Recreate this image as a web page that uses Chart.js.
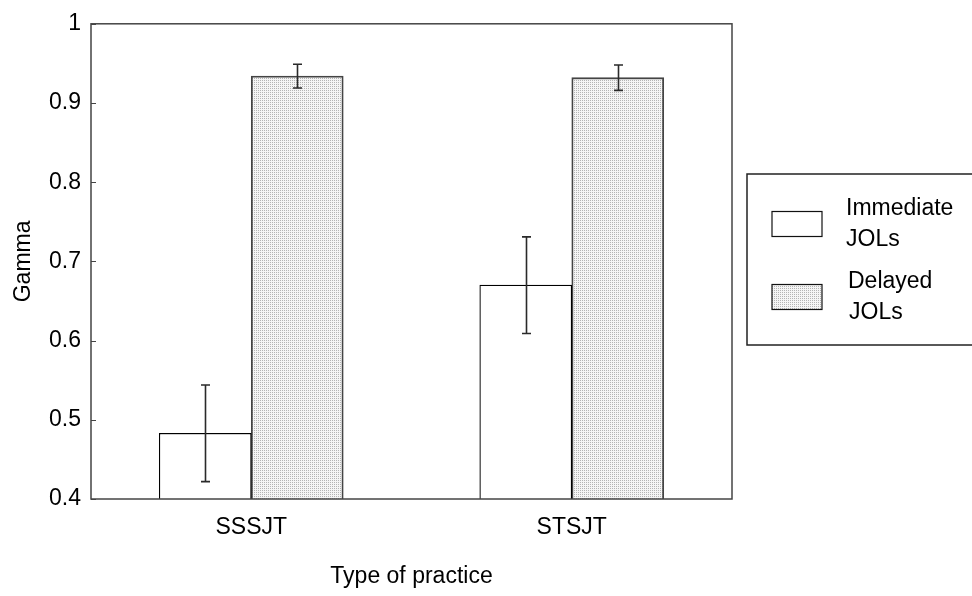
<!DOCTYPE html>
<html>
<head>
<meta charset="utf-8">
<script src="https://cdn.jsdelivr.net/npm/chart.js@4/dist/chart.umd.min.js"></script>
<style>
  html, body { margin: 0; padding: 0; background: #fff; }
  #wrap { width: 972px; height: 596px; position: relative; }
</style>
</head>
<body>
<div id="wrap"><canvas id="chart"></canvas></div>
<script>
// Mean gamma by practice type, with error bar half-widths
const categories = ['SSSJT', 'STSJT'];
const seriesNames = ['Immediate JOLs', 'Delayed JOLs'];
const immediate = [0.483, 0.670];
const delayed = [0.934, 0.932];
const immediateErr = [0.061, 0.061];
const delayedErr = [0.015, 0.016];
const yTickValues = [0.4, 0.5, 0.6, 0.7, 0.8, 0.9, 1];

const FONT = '"Liberation Sans", Arial, Helvetica, sans-serif';
const FONT_SIZE = 23;

// fine dotted fill for the delayed bars
function stipple() {
  const c = document.createElement('canvas');
  c.width = 2; c.height = 2;
  const g = c.getContext('2d');
  g.fillStyle = '#f5f5f5'; g.fillRect(0, 0, 2, 2);
  g.fillStyle = '#b4b4b4';
  g.fillRect(0, 0, 1, 1);
  return g.createPattern(c, 'repeat');
}
const dotFill = stipple();

const errorSets = [immediateErr, delayedErr];

const errorBars = {
  id: 'errorBars',
  afterDatasetsDraw(chart) {
    const ctx = chart.ctx;
    const y = chart.scales.y;
    ctx.save();
    ctx.strokeStyle = '#2a2a2a';
    ctx.lineWidth = 1.6;
    chart.data.datasets.forEach((ds, di) => {
      const meta = chart.getDatasetMeta(di);
      meta.data.forEach((bar, i) => {
        const v = ds.data[i];
        const e = errorSets[di][i];
        const yt = y.getPixelForValue(v + e);
        const yb = y.getPixelForValue(v - e);
        const x = Math.round(bar.x) + 0.5;
        ctx.beginPath();
        ctx.moveTo(x, yt); ctx.lineTo(x, yb);
        ctx.moveTo(x - 4.5, yt); ctx.lineTo(x + 4.5, yt);
        ctx.moveTo(x - 4.5, yb); ctx.lineTo(x + 4.5, yb);
        ctx.stroke();
      });
    });
    ctx.restore();
  }
};

const frameAndTicks = {
  id: 'frameAndTicks',
  afterDraw(chart) {
    const ctx = chart.ctx;
    const a = chart.chartArea;
    const y = chart.scales.y;
    ctx.save();
    ctx.strokeStyle = '#444';
    ctx.lineWidth = 1.5;
    ctx.strokeRect(a.left, a.top, a.right - a.left, a.bottom - a.top);
    // short inward ticks on the value axis
    ctx.lineWidth = 1;
    yTickValues.forEach(v => {
      const py = Math.round(y.getPixelForValue(v)) + 0.5;
      ctx.beginPath();
      ctx.moveTo(a.left, py); ctx.lineTo(a.left + 5, py);
      ctx.stroke();
    });
    ctx.restore();
  }
};

const boxedLegend = {
  id: 'boxedLegend',
  afterDraw(chart) {
    const ctx = chart.ctx;
    const a = chart.chartArea;
    const left = a.right + 15, top = 174, height = 171;
    ctx.save();
    ctx.fillStyle = '#fff';
    ctx.strokeStyle = '#222';
    ctx.lineWidth = 1.5;
    ctx.fillRect(left, top, 300, height);
    ctx.strokeRect(left, top, 300, height);
    ctx.font = FONT_SIZE + 'px ' + FONT;
    ctx.textBaseline = 'middle';
    ctx.textAlign = 'left';
    chart.data.datasets.forEach((ds, i) => {
      const cy = top + 50 + i * 73;
      const sx = left + 25;
      ctx.fillStyle = ds.backgroundColor;
      ctx.fillRect(sx, cy - 12.5, 50, 25);
      ctx.strokeStyle = '#111';
      ctx.lineWidth = 1.2;
      ctx.strokeRect(sx, cy - 12.5, 50, 25);
      ctx.fillStyle = '#000';
      const parts = ds.label.split(' ');
      ctx.fillText(parts[0], sx + 74 + i * 2, cy - 15);
      ctx.fillText(parts.slice(1).join(' '), sx + 74 + i * 3, cy + 16);
    });
    ctx.restore();
  }
};

new Chart(document.getElementById('chart'), {
  type: 'bar',
  data: {
    labels: categories,
    datasets: [
      {
        label: seriesNames[0],
        data: immediate,
        backgroundColor: '#ffffff',
        borderColor: '#000',
        borderWidth: 1.2,
        borderSkipped: false,
        barThickness: 92
      },
      {
        label: seriesNames[1],
        data: delayed,
        backgroundColor: dotFill,
        borderColor: '#444',
        borderWidth: 1.8,
        borderSkipped: false,
        barThickness: 92
      }
    ]
  },
  options: {
    responsive: true,
    maintainAspectRatio: false,
    animation: false,
    layout: { padding: { top: 20, right: 240, bottom: 0, left: 0 } },
    plugins: {
      legend: { display: false },
      tooltip: { enabled: false }
    },
    scales: {
      x: {
        grid: { display: false, drawTicks: false },
        border: { display: false },
        ticks: {
          color: '#000',
          font: { family: FONT, size: FONT_SIZE },
          padding: 15
        },
        title: {
          display: true,
          text: 'Type of practice',
          color: '#000',
          font: { family: FONT, size: FONT_SIZE },
          padding: { top: 0, bottom: 6 }
        },
        afterFit(scale) { scale.height = 97; }
      },
      y: {
        min: 0.4,
        max: 1,
        grid: { display: false, drawTicks: false },
        border: { display: false },
        afterBuildTicks(scale) {
          scale.ticks = yTickValues.map(v => ({ value: v }));
        },
        ticks: {
          color: '#000',
          font: { family: FONT, size: FONT_SIZE },
          padding: 10,
          callback: v => (v === 1 ? '1' : v.toFixed(1))
        },
        title: {
          display: true,
          text: 'Gamma',
          color: '#000',
          font: { family: FONT, size: FONT_SIZE },
          padding: { top: 10, bottom: 0 }
        },
        afterFit(scale) { scale.width = 91; }
      }
    }
  },
  plugins: [errorBars, frameAndTicks, boxedLegend]
});
</script>
</body>
</html>
